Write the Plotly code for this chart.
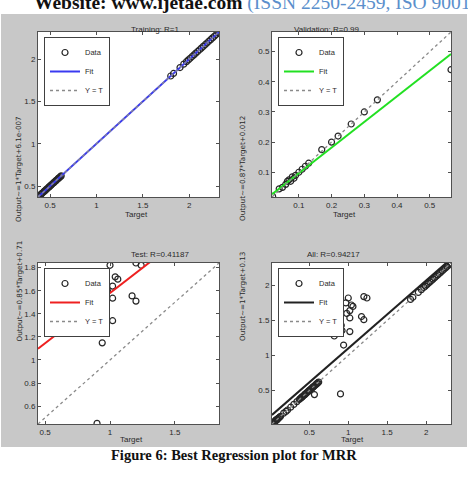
import plotly.graph_objects as go

W, H = 468, 480

# ---------------- data ----------------
panel_titles = ["Training: R=1", "Validation: R=0.99", "Test: R=0.41187", "All: R=0.94217"]
ylabels = ["Output~=1*Target+6.1e-007", "Output~=0.87*Target+0.012",
           "Output~=0.85*Target+0.71", "Output~=1*Target+0.13"]
fit_colors = ["#3a3af0", "#22e022", "#ee2020", "#222222"]

train_target = [0.37, 0.38, 0.395, 0.40, 0.41, 0.42, 0.435, 0.44, 0.45, 0.46, 0.47, 0.485,
                0.49, 0.50, 0.51, 0.52, 0.535, 0.54, 0.55, 0.56, 0.57, 0.585, 0.59, 0.60, 0.61, 0.62,
                1.80, 1.83, 1.90, 1.94, 1.97, 1.99, 2.01, 2.03, 2.05, 2.07, 2.09, 2.11, 2.13, 2.15,
                2.17, 2.19, 2.21, 2.23, 2.25, 2.27, 2.29, 2.31, 2.32]
train_output = [0.37, 0.38, 0.395, 0.40, 0.41, 0.42, 0.435, 0.44, 0.45, 0.46, 0.47, 0.485,
                0.49, 0.50, 0.51, 0.52, 0.535, 0.54, 0.55, 0.56, 0.57, 0.585, 0.59, 0.60, 0.61, 0.62,
                1.80, 1.83, 1.90, 1.94, 1.97, 1.99, 2.01, 2.03, 2.05, 2.07, 2.09, 2.11, 2.13, 2.15,
                2.17, 2.19, 2.21, 2.23, 2.25, 2.27, 2.29, 2.31, 2.32]

val_target = [0.02, 0.04, 0.05, 0.06, 0.065, 0.07, 0.075, 0.08, 0.085, 0.09, 0.10, 0.11,
              0.12, 0.13, 0.17, 0.20, 0.22, 0.26, 0.30, 0.34, 0.565]
val_output = [0.02, 0.045, 0.05, 0.06, 0.07, 0.075, 0.07, 0.085, 0.08, 0.09, 0.10, 0.11,
              0.12, 0.13, 0.175, 0.20, 0.22, 0.26, 0.30, 0.34, 0.44]

test_target = [0.90, 1.20, 1.24, 1.00, 1.04, 1.06, 1.02, 1.02, 1.17, 1.20, 0.70, 0.78,
               0.75, 0.91, 0.92, 1.02, 0.82, 0.94, 0.97, 0.98, 0.77, 0.84]
test_output = [0.45, 1.84, 1.82, 1.82, 1.72, 1.70, 1.64, 1.535, 1.555, 1.51, 1.42, 1.42,
               1.40, 1.43, 1.355, 1.34, 1.277, 1.148, 1.75, 1.60, 1.53, 1.46]

all_target = train_target + val_target + test_target
all_output = train_output + val_output + test_output

fit_slope = [1.0, 0.85, 0.87, 0.97]
fit_intercept = [6.1e-7, 0.012, 0.71, 0.13]

axis_range = [[0.37, 2.32], [0.018, 0.565], [0.445, 1.84], [0.02, 2.32]]
x_ticks = [[0.5, 1, 1.5, 2], [0.1, 0.2, 0.3, 0.4, 0.5], [0.5, 1, 1.5], [0.5, 1, 1.5, 2]]
y_ticks = [[0.5, 1, 1.5, 2], [0.1, 0.2, 0.3, 0.4, 0.5],
           [0.6, 0.8, 1, 1.2, 1.4, 1.6, 1.8], [0.5, 1, 1.5, 2]]

targets = [train_target, val_target, test_target, all_target]
outputs = [train_output, val_output, test_output, all_output]

# ---------------- layout geometry (pixels) ----------------
boxes = [(38, 219, 32, 197), (272, 451, 32, 197), (38, 219, 263, 424), (272, 451, 263, 424)]
xlabel_shift = [-5, -5, -10, 3]
xlabel_drop = [17, 17, 20.5, 20.5]


def px(x):
    return x / W


def py(y):
    return 1 - y / H


fig = go.Figure()
TXT = "#2a2a2a"
FONT = "Liberation Sans, Arial, sans-serif"

for i in range(4):
    k = "" if i == 0 else str(i + 1)
    xa, ya = "x" + k, "y" + k
    lg = "legend" + k
    lo, hi = axis_range[i]
    fig.add_trace(go.Scatter(x=targets[i], y=outputs[i], mode="markers", name="Data",
                             xaxis=xa, yaxis=ya, legend=lg,
                             marker=dict(symbol="circle-open", size=6, color="#262626",
                                         line=dict(width=1.2))))
    fig.add_trace(go.Scatter(x=[lo, hi],
                             y=[fit_slope[i] * lo + fit_intercept[i], fit_slope[i] * hi + fit_intercept[i]],
                             mode="lines", name="Fit", xaxis=xa, yaxis=ya, legend=lg,
                             line=dict(color=fit_colors[i], width=2)))
    fig.add_trace(go.Scatter(x=[lo, hi], y=[lo, hi], mode="lines", name="Y = T",
                             xaxis=xa, yaxis=ya, legend=lg,
                             line=dict(color="#8a8a8a", width=1.3, dash="dot")))

    x0, x1, y0, y1 = boxes[i]
    axcommon = dict(showgrid=False, zeroline=False, showline=True, linecolor="#505050",
                    linewidth=1, mirror="ticks", ticks="inside", ticklen=3, tickcolor="#505050",
                    tickfont=dict(size=8, color=TXT, family=FONT), range=[lo, hi],
                    fixedrange=True)
    fig.layout["xaxis" + k] = dict(axcommon, domain=[px(x0), px(x1)], anchor=ya,
                                   tickvals=x_ticks[i])
    fig.layout["yaxis" + k] = dict(axcommon, domain=[py(y1), py(y0)], anchor=xa,
                                   tickvals=y_ticks[i])
    fig.layout[lg] = dict(x=px(x0 + 6), y=py(y0 + 5), xanchor="left", yanchor="top",
                          bgcolor="white", bordercolor="#404040", borderwidth=1,
                          font=dict(size=7.5, color=TXT, family=FONT),
                          itemwidth=30, tracegroupgap=0)

    cx = (x0 + x1) / 2
    fig.add_annotation(x=px(cx), y=py(y0 - 9), xref="paper", yref="paper", text=panel_titles[i],
                       showarrow=False, font=dict(size=8, color=TXT, family=FONT))
    fig.add_annotation(x=px(cx + xlabel_shift[i]), y=py(y1 + xlabel_drop[i]),
                       xref="paper", yref="paper", text="Target", showarrow=False, borderpad=0,
                       font=dict(size=8, color=TXT, family=FONT))
    fig.add_annotation(x=px(x0 - (26 if i % 2 == 0 else 30)), y=py((y0 + y1) / 2),
                       xref="paper", yref="paper", text=ylabels[i], textangle=-90,
                       showarrow=False, font=dict(size=7.2, color=TXT, family="DejaVu Sans"))

# gray figure background and white plotting areas
shapes = [dict(type="rect", xref="paper", yref="paper", x0=px(1), x1=px(467), y0=py(447), y1=py(14),
               fillcolor="#c8c8c8", line=dict(width=0), layer="below")]
for i in range(4):
    k = "" if i == 0 else str(i + 1)
    shapes.append(dict(type="rect", xref="x" + k + " domain", yref="y" + k + " domain",
                       x0=0, x1=1, y0=0, y1=1, fillcolor="white", line=dict(width=0), layer="below"))

# page header (cut at top) and caption
fig.add_annotation(x=px(32), y=py(16), xref="paper", yref="paper", xanchor="left", yanchor="bottom",
                   text="<b>Website: www.ijetae.com </b><span style='color:#5b8fcc'>(ISSN 2250-2459, ISO 9001:2008 Certified Journal</span>",
                   showarrow=False, font=dict(size=19.5, color="#111", family="Liberation Serif, Times New Roman, serif"))
fig.add_annotation(x=0.5, y=py(465), xref="paper", yref="paper",
                   text="<b>Figure 6: Best Regression plot for MRR</b>",
                   showarrow=False, font=dict(size=14.5, color="#111", family="Liberation Serif, Times New Roman, serif"))

fig.update_layout(width=W, height=H, autosize=False, margin=dict(l=0, r=0, t=0, b=0, pad=0),
                  paper_bgcolor="white", plot_bgcolor="white", shapes=shapes, showlegend=True)

fig.write_html("out.html")
